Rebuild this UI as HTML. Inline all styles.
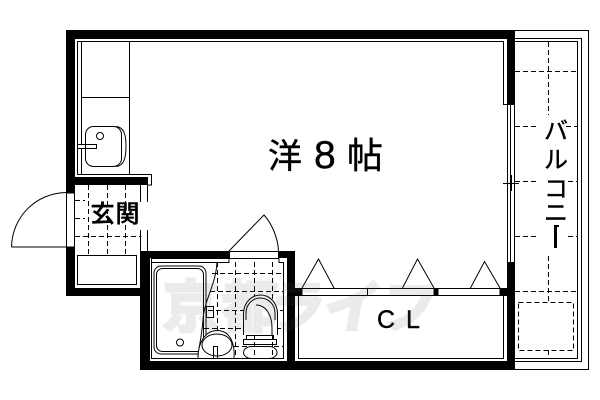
<!DOCTYPE html>
<html lang="ja">
<head>
<meta charset="utf-8">
<style>
html,body{margin:0;padding:0;background:#fff}
#p{position:relative;width:600px;height:400px;overflow:hidden;background:#fff}
svg{position:absolute;left:0;top:0}
.l{fill:none;stroke:#000;stroke-width:1}
.c{shape-rendering:crispEdges}
.d{stroke-dasharray:5 3}
.t{font-family:"Liberation Sans","Noto Sans CJK JP",sans-serif;fill:#000;stroke:#000;stroke-width:.4}
</style>
</head>
<body>
<div id="p">
<svg width="600" height="400" viewBox="0 0 600 400" xmlns="http://www.w3.org/2000/svg">
<!-- dashed tile grids -->
<g class="l d c">
<path d="M88.5 185V255M107.5 185V255M125.5 185V255M75 200.5H85M75 218.5H85M75 236.5H140"/>
<path d="M217.5 262V358M235.5 262V358M254.5 262V358M272.5 262V358"/>
<path d="M212 273.5H283M210 291.5H283M208 310.5H283M204 328.5H283M234 346.5H283"/>
<path d="M548.5 42V115M515 71.5H577M515 126.5H538M566 126.5H577M515 181.5H538M568 181.5H577M515 236.5H538M568 236.5H577M548.5 256V302M515 291.5H577M518.5 302.5H573.5V350.5H518.5ZM548.5 350V358"/>
</g>

<!-- bath & toilet fixtures background clear -->
<rect x="154" y="266" width="52" height="88" rx="7" fill="#fff" class="l"/>
<rect x="156.5" y="268.5" width="47" height="83" rx="6" class="l"/>
<circle cx="180" cy="342.5" r="3.5" class="l"/>
<path d="M217 262C216 285 204 300 203 320C202 335 199 345 198 358" fill="none" stroke="#000"/>
<rect x="206.5" y="306.5" width="7" height="11" fill="#fff" class="l c"/>
<path d="M198 358C198 344 204 331 217 330.5C231 330.5 235 345 234 358" fill="#fff" stroke="#000"/>
<ellipse cx="217" cy="345" rx="15" ry="11" fill="#fff" class="l"/>
<rect x="213.5" y="346.5" width="4" height="12" fill="#fff" class="l c"/>
<path d="M243.5 335V314C243.5 302 252 295 260.5 295C269 295 277.5 302 277.5 314V335" fill="#fff" stroke="#000"/>
<path d="M246 320V313C246 304 253 298 260 298C268 298 275 304 275 313V320" class="l"/>
<path d="M256 305C266 305 272 315 272 328V335" class="l"/>
<rect x="246.5" y="335.5" width="27" height="4" fill="#fff" class="l c"/>
<rect x="243.5" y="339.5" width="33" height="5" fill="#fff" class="l c"/>
<rect x="243.5" y="346.5" width="33.5" height="12" rx="8" fill="#fff" class="l"/>

<!-- walls -->
<g fill="#000" class="c">
<rect x="66" y="30" width="449" height="9"/>
<rect x="66" y="30" width="9" height="163"/>
<rect x="66" y="177" width="82" height="8"/>
<rect x="66" y="247" width="9" height="49"/>
<rect x="66" y="288" width="84" height="8"/>
<rect x="140" y="251" width="10" height="119"/>
<rect x="140" y="251" width="89" height="7"/>
<rect x="279" y="251" width="16" height="7"/>
<rect x="287" y="251" width="8" height="119"/>
<rect x="140" y="361" width="375" height="9"/>
<rect x="507" y="30" width="8" height="75"/>
<rect x="507" y="262" width="8" height="108"/>
<rect x="295" y="288" width="7" height="8"/>
<rect x="434" y="288" width="4" height="8"/>
<rect x="500" y="288" width="7" height="8"/>
</g>

<!-- thin lines -->
<g class="l c">
<path d="M77.5 174.5V41.5H503.5V104.5H507"/>
<path d="M77.5 174.5H151.5V185H148"/>
<path d="M81.5 41V174M129.5 41V174M81.5 97.5H129.5"/>
<rect x="77.5" y="144.5" width="19" height="4" fill="#fff"/>
<path d="M66.5 193V247M74.5 193V247M66 193H75M66 247H75"/>
<path d="M140.5 185V202M147.5 185V202M140.5 230V251M147.5 230V251"/>
<rect x="77.5" y="255.5" width="59" height="29" fill="#fff"/>
<path d="M229 258.5H151.5V358.5H283.5V262.5H279V258.5"/>
<path d="M151.5 262.5H229V258"/>
<path d="M229.5 251.5H278.5V258.5H229.5Z" fill="#fff"/>
<path d="M298.5 296V358.5H503.5V296"/>
<path d="M302 288.5H434V295.5H302ZM367.5 288V296M438 288.5H500V295.5H438Z" fill="#fff"/>
<path d="M507.5 105V262M510.5 105V262M514.5 105V262M503 183.5H519M511.5 175V191"/>
<path d="M515 30.5H588.5V369.5H515M515 38.5H581.5V361.5H515M515 41.5H577.5V358.5H515"/>
</g>

<!-- sink -->
<rect x="85.5" y="126.5" width="36" height="40" rx="8" class="l"/>
<path d="M116 126.5C124 127 126 135 126 146C126 158 124 166 116 166.5" class="l"/>
<circle cx="100" cy="136" r="3.5" class="l"/>

<!-- doors -->
<path d="M11.5 247H66M11.5 247C12 217 36 193 66 192.5" class="l"/>
<path d="M229 251L264 215C272 224 278 238 278.5 251" class="l"/>
<path d="M302 288L318.5 259L334 288M402.5 288L417.5 259L434 288M470.5 288L484.5 261.5L500 288" class="l"/>

<!-- labels -->
<text class="t" x="268" y="168" font-size="34">洋</text>
<text class="t" x="314" y="168" font-size="39">8</text>
<text class="t" x="347" y="168" font-size="36">帖</text>
<text class="t" x="90.5" y="222" font-size="24" font-weight="500">玄</text>
<text class="t" x="115.5" y="222" font-size="24" font-weight="500">関</text>
<text class="t" x="377" y="328" font-size="25">C</text>
<text class="t" x="406" y="328" font-size="25">L</text>
<text class="t" x="544" y="139" font-size="24">バ</text>
<text class="t" x="544" y="168" font-size="24">ル</text>
<text class="t" x="544" y="197" font-size="24">コ</text>
<text class="t" x="544" y="221" font-size="24">ニ</text>
<rect x="554" y="225" width="3" height="23" fill="#000" class="c"/>
<rect x="554" y="225" width="5" height="2" fill="#000" class="c"/>

<!-- watermark -->
<g opacity="0.12" fill="#666" stroke="#666" stroke-width="3" font-family="'Liberation Sans','Noto Sans CJK JP',sans-serif" font-weight="700" font-size="56">
<text x="163" y="327">京</text>
<text x="222" y="327">都</text>
<text x="295" y="327" transform="translate(28 0) skewX(-10)">ライフ</text>
</g>
</svg>
</div>
</body>
</html>
